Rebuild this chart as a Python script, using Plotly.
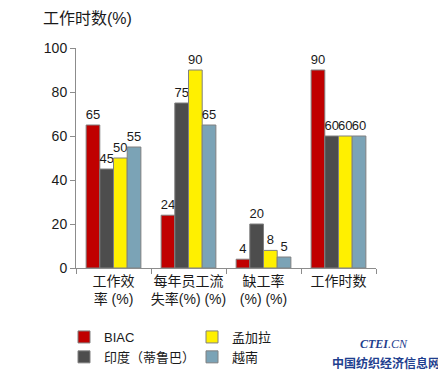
import plotly.graph_objects as go

categories = ["工作效<br>率 (%)", "每年员工流<br>失率(%) (%)", "缺工率<br>(%) (%)", "工作时数"]
series_names = ["BIAC", "印度（蒂鲁巴）", "孟加拉", "越南"]
biac = [65, 24, 4, 90]
india = [45, 75, 20, 60]
bangladesh = [50, 90, 8, 60]
vietnam = [55, 65, 5, 60]
y_ticks = [0, 20, 40, 60, 80, 100]

colors = ["#C00000", "#4D4D4D", "#FFF000", "#7BA3B6"]
legends = ["legend", "legend", "legend2", "legend2"]
FONT = "Liberation Sans, Arial, Noto Sans CJK SC, sans-serif"

fig = go.Figure()
for name, vals, col, lg in zip(series_names, [biac, india, bangladesh, vietnam], colors, legends):
    fig.add_trace(go.Bar(
        x=categories, y=vals, name=name,
        marker=dict(color=col, line=dict(color="#808080", width=1)),
        text=[str(v) for v in vals], textposition="outside",
        textfont=dict(size=13, color="#1a1a1a", family=FONT),
        constraintext="none", cliponaxis=False, legend=lg,
    ))

# page body has an 8px default margin, so the plot is shifted up/left by 8px
fig.update_layout(
    width=446, height=378,
    margin=dict(l=68, r=78, t=40, b=118, autoexpand=False),
    paper_bgcolor="white", plot_bgcolor="white",
    barmode="group", bargap=0.27, bargroupgap=0,
    font=dict(family=FONT, size=14, color="#1a1a1a"),
    title=dict(text="工作时数(%)", x=35/446, xref="container", xanchor="left",
               y=1-10/378, yref="container", yanchor="middle",
               font=dict(size=16, color="#1a1a1a", family=FONT)),
    xaxis=dict(showline=True, linecolor="#8c8c8c", linewidth=1, tickangle=0,
               ticks="outside", tickson="boundaries", ticklen=5, tickcolor="#8c8c8c",
               tickfont=dict(size=14), showgrid=False),
    yaxis=dict(range=[0, 100], tickvals=y_ticks, showline=True, linecolor="#8c8c8c",
               linewidth=1, ticks="outside", ticklen=5, tickcolor="#8c8c8c",
               showgrid=False, zeroline=False, tickfont=dict(size=14)),
    legend=dict(x=(64-76)/300, y=(268-322)/220, xanchor="left", yanchor="top", orientation="v",
                font=dict(size=13), bgcolor="rgba(0,0,0,0)", tracegroupgap=0),
    legend2=dict(x=(192-76)/300, y=(268-322)/220, xanchor="left", yanchor="top", orientation="v",
                 font=dict(size=13), bgcolor="rgba(0,0,0,0)", tracegroupgap=0),
    showlegend=True,
)

fig.add_annotation(text="<i><b>CTEI</b></i><i>.CN</i>", xref="paper", yref="paper",
                   x=(384-76)/300, y=(268-344)/220, xanchor="center", yanchor="middle",
                   showarrow=False,
                   font=dict(size=12, color="#1f3f8f", family="Liberation Serif"))
fig.add_annotation(text="<b>中国纺织经济信息网</b>", xref="paper", yref="paper",
                   x=(386-76)/300, y=(268-362)/220, xanchor="center", yanchor="middle",
                   showarrow=False,
                   font=dict(size=12, color="#1f3f8f", family="Noto Sans CJK SC"))

fig.write_html("out.html")
